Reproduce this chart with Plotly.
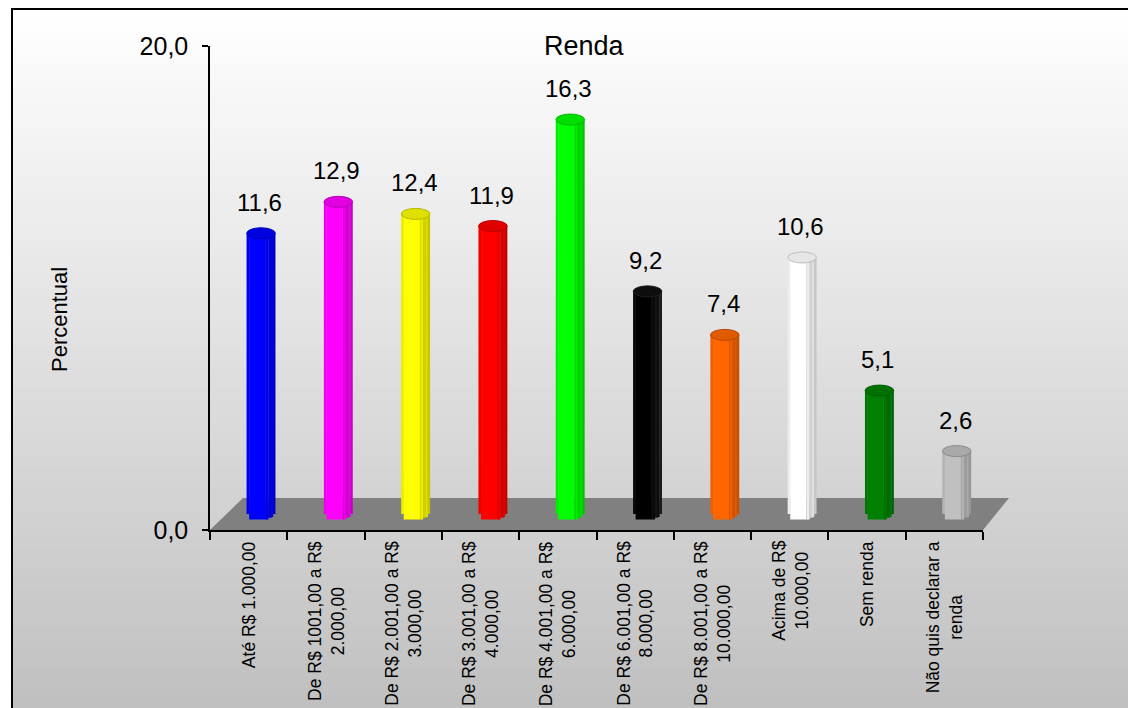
import math
import plotly.graph_objects as go

# ---- data ----
categorias = [
    "Até R$ 1.000,00",
    "De R$ 1001,00 a R$<br>2.000,00",
    "De R$ 2.001,00 a R$<br>3.000,00",
    "De R$ 3.001,00 a R$<br>4.000,00",
    "De R$ 4.001,00 a R$<br>6.000,00",
    "De R$ 6.001,00 a R$<br>8.000,00",
    "De R$ 8.001,00 a R$<br>10.000,00",
    "Acima de R$<br>10.000,00",
    "Sem renda",
    "Não quis declarar a<br>renda",
]
percentuais = [11.6, 12.9, 12.4, 11.9, 16.3, 9.2, 7.4, 10.6, 5.1, 2.6]
cores = ["#0000ff", "#ff00ff", "#ffff00", "#ff0000", "#00ff00",
         "#000000", "#ff6600", "#ffffff", "#008000", "#c0c0c0"]
ticks_y = [0, 20]
ticks_y_texto = ["0,0", "20,0"]
titulo = "Renda"
titulo_y = "Percentual"

# ---- geometry of the page (pixels) ----
W, H = 1128, 708
L, R, T, B = 210, 983, 46, 530
FONT = "Liberation Sans, Arial, sans-serif"

def px(xp):
    return (xp - L) / (R - L)

def py(yp):
    return (B - yp) / (B - T)

y_unit = (B - T) / 20.0          # pixels per percentage point
base = (B - 514) / y_unit        # bars stand in the middle of the floor
shift = 0.16                     # depth offset of bars (category units)
bar_w = 0.37
ell = 5.5 / y_unit               # half height of the cylinder ellipses

def hex_rgb(c):
    c = c.lstrip("#")
    return [int(c[i:i + 2], 16) for i in (0, 2, 4)]

def shade(c, f):
    r, g, b = hex_rgb(c)
    if r == g == b == 0:
        v = int(round(110 * (1 - f)))
        return f"rgb({v},{v},{v})"
    return "rgb({},{},{})".format(*[int(round(min(255, ch * f))) for ch in (r, g, b)])

shapes = []

# background: vertical gradient white -> silver
n_bands = 70
y_top, y_bot = 9, H
for k in range(n_bands):
    a = y_top + (y_bot - y_top) * k / n_bands
    b = y_top + (y_bot - y_top) * (k + 1) / n_bands
    v = int(round(255 - 63 * ((a + b) / 2 - y_top) / (y_bot - y_top)))
    shapes.append(dict(type="rect", xref="paper", yref="paper", layer="below",
                       x0=px(12), x1=px(W + 20), y0=py(a), y1=py(b + 1),
                       fillcolor=f"rgb({v},{v},{v})", line=dict(width=0)))

# outer frame
shapes.append(dict(type="rect", xref="paper", yref="paper", layer="below",
                   x0=px(12), x1=px(W + 20), y0=py(9), y1=py(H + 20),
                   fillcolor="rgba(0,0,0,0)", line=dict(color="black", width=2)))

# floor
floor_pts = [(210, 530), (983, 530), (1009, 498), (243, 498)]
path = "M " + " L ".join(f"{px(x):.5f},{py(y):.5f}" for x, y in floor_pts) + " Z"
shapes.append(dict(type="path", xref="paper", yref="paper", layer="below",
                   path=path, fillcolor="#808080", line=dict(width=0)))

# cylinders: vertical bands (from u0 to u1 across the diameter) with lighting factor
bands = [(-1.0, -0.82, 0.93), (-0.82, 0.3, 1.0), (0.3, 0.42, 0.86),
         (0.42, 0.52, 0.93), (0.52, 0.74, 0.82), (0.74, 0.84, 0.88),
         (0.84, 1.0, 0.78)]
fig = go.Figure()
for u0, u1, f in bands:
    uc = (u0 + u1) / 2
    drop = ell * math.sqrt(max(0.0, 1 - max(abs(u0), abs(u1)) ** 2) if abs(uc) > 0.5 else 1.0)
    wid = (u1 - u0) * bar_w / 2
    xs = [i + shift + uc * bar_w / 2 for i in range(len(percentuais))]
    fig.add_trace(go.Bar(
        x=xs,
        y=[v + drop for v in percentuais],
        base=[base - drop] * len(percentuais),
        width=wid + 0.004,
        marker=dict(color=[shade(c, f) for c in cores], line=dict(width=0)),
        hoverinfo="skip", showlegend=False,
    ))

# cylinder tops
for i, (v, c) in enumerate(zip(percentuais, cores)):
    cx = i + shift
    shapes.append(dict(type="circle", xref="x", yref="y", layer="above",
                       x0=cx - bar_w / 2, x1=cx + bar_w / 2,
                       y0=base + v - ell, y1=base + v + ell,
                       fillcolor=shade(c, 0.88) if c != "#ffffff" else "#e6e6e6",
                       line=dict(color=shade(c, 0.72) if c != "#ffffff" else "#bdbdbd",
                                 width=1)))

annotations = []
# value labels
for i, v in enumerate(percentuais):
    annotations.append(dict(x=i + shift - 0.02, y=base + v + 1.28, xref="x", yref="y",
                            text=f"{v:.1f}".replace(".", ","), showarrow=False,
                            yanchor="middle", xanchor="center",
                            font=dict(family=FONT, size=24, color="black")))

# category labels (rotated)
for i, cat in enumerate(categorias):
    annotations.append(dict(x=i, y=py(539), xref="x", yref="paper", text=cat,
                            showarrow=False, textangle=-90, align="center",
                            xanchor="center", yanchor="top",
                            font=dict(family=FONT, size=17.5, color="black")))

annotations.append(dict(x=px(584), y=py(46), xref="paper", yref="paper",
                        text=titulo, showarrow=False, xanchor="center", yanchor="middle",
                        font=dict(family=FONT, size=27, color="black")))
annotations.append(dict(x=px(59), y=py(320), xref="paper", yref="paper",
                        text=titulo_y, showarrow=False, textangle=-90,
                        xanchor="center", yanchor="middle",
                        font=dict(family=FONT, size=22, color="black")))

fig.update_layout(
    width=W, height=H,
    margin=dict(l=L, r=W - R, t=T, b=H - B, pad=0),
    paper_bgcolor="white", plot_bgcolor="rgba(0,0,0,0)",
    barmode="overlay", showlegend=False,
    shapes=shapes, annotations=annotations,
    xaxis=dict(range=[-0.5, len(categorias) - 0.5], showgrid=False, zeroline=False,
               showline=True, linecolor="black", linewidth=1.5,
               ticks="outside", ticklen=8, tickwidth=1.5, tickcolor="black",
               tickvals=[k - 0.5 for k in range(len(categorias) + 1)],
               showticklabels=False, fixedrange=True),
    yaxis=dict(range=[0, 20], showgrid=False, zeroline=False,
               showline=True, linecolor="black", linewidth=1.5,
               ticks="outside", ticklen=6, tickwidth=1.5, tickcolor="black",
               tickvals=ticks_y, ticktext=ticks_y_texto, ticklabelstandoff=9,
               tickfont=dict(family=FONT, size=25, color="black"), fixedrange=True),
)

fig.write_html("out.html")
